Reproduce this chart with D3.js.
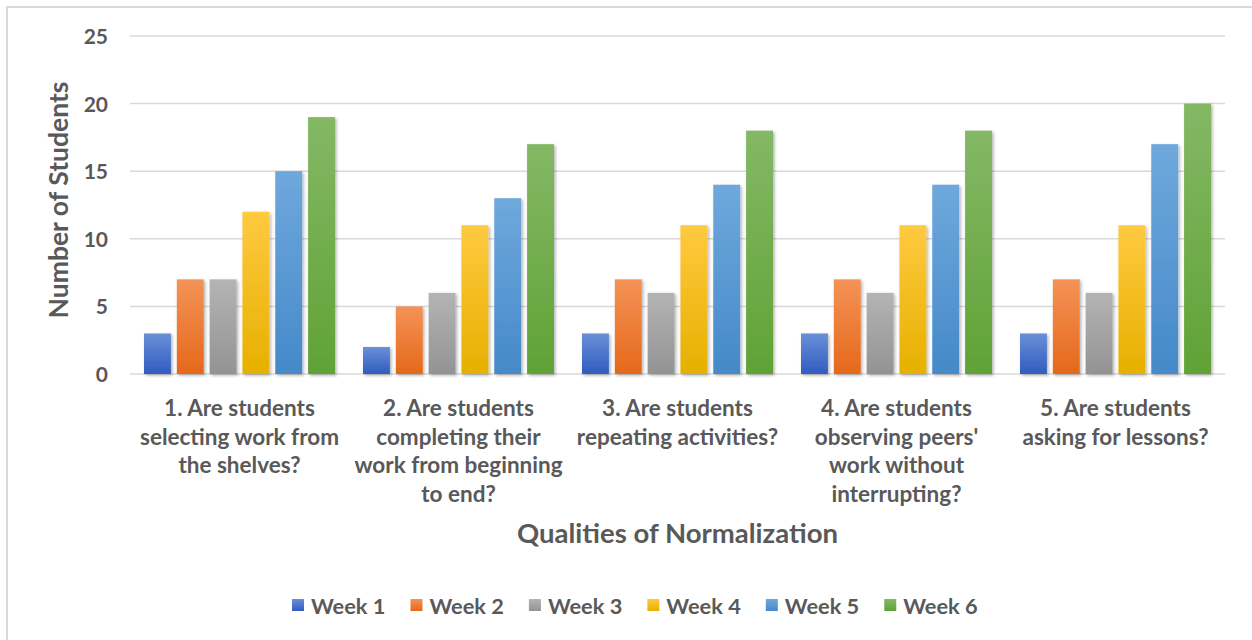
<!DOCTYPE html>
<html><head><meta charset="utf-8">
<script src="https://cdn.jsdelivr.net/npm/d3@7"></script>
<style>body{margin:0;background:#fff}svg{display:block}</style>
</head><body>
<svg id="c" width="1252" height="640"></svg>
<script>
const categories = [
  ["1. Are students","selecting work from","the shelves?"],
  ["2. Are students","completing their","work from beginning","to end?"],
  ["3. Are students","repeating activities?"],
  ["4. Are students","observing peers'","work without","interrupting?"],
  ["5. Are students","asking for lessons?"]
];
const weeks = ["Week 1","Week 2","Week 3","Week 4","Week 5","Week 6"];
const week1 = [3,2,3,3,3];
const week2 = [7,5,7,7,7];
const week3 = [7,6,6,6,6];
const week4 = [12,11,11,11,11];
const week5 = [15,13,14,14,17];
const week6 = [19,17,18,18,20];
const yTicks = [0,5,10,15,20,25];
const series = [week1,week2,week3,week4,week5,week6];
const colors = [
  ["#6b8fd8","#2f5cbf"],
  ["#f49357","#e5681a"],
  ["#b4b4b4","#939393"],
  ["#ffc940","#e6b000"],
  ["#6fa8dc","#4589c9"],
  ["#84b865","#60a236"]
];
const FONT = "Lato, 'Open Sans', sans-serif";
const TXT = "#595959";

const svg = d3.select("#c");
const defs = svg.append("defs");
const f = defs.append("filter").attr("id","sh").attr("x","-20%").attr("y","-20%").attr("width","160%").attr("height","140%");
f.append("feDropShadow").attr("dx",1.5).attr("dy",1.5).attr("stdDeviation",1.8).attr("flood-color","#000").attr("flood-opacity",0.3);
colors.forEach((c,i)=>{
  const g = defs.append("linearGradient").attr("id","g"+i).attr("x1",0).attr("y1",0).attr("x2",0).attr("y2",1);
  g.append("stop").attr("offset","0%").attr("stop-color",c[0]);
  g.append("stop").attr("offset","100%").attr("stop-color",c[1]);
});

// outer border
svg.append("rect").attr("x",7).attr("y",7).attr("width",1300).attr("height",700)
  .attr("fill","none").attr("stroke","#d9d9d9").attr("stroke-width",2);

const pLeft = 130, pRight = 1225, pTop = 36, pBottom = 374;
const y = d3.scaleLinear().domain([0,25]).range([pBottom, pTop]);
const x0 = d3.scaleBand().domain(d3.range(categories.length)).range([pLeft,pRight]);
const x1 = d3.scaleBand().domain(d3.range(weeks.length)).range([14, x0.bandwidth()-14]).paddingInner(0.18);

// gridlines
svg.append("g").selectAll("line").data(yTicks).join("line")
  .attr("x1",pLeft).attr("x2",pRight)
  .attr("y1",d=>y(d)).attr("y2",d=>y(d))
  .attr("stroke","#d9d9d9").attr("stroke-width",1.5);

// y axis labels
const yAxis = d3.axisLeft(y).tickValues(yTicks).tickSize(0).tickPadding(0);
const ya = svg.append("g").attr("transform",`translate(108,0)`).call(yAxis);
ya.select(".domain").remove();
ya.selectAll("text").attr("font-family",FONT).attr("font-weight","bold").attr("font-size",21).attr("fill",TXT).attr("dy","0.36em");

// bars
const groups = svg.append("g").selectAll("g").data(categories).join("g")
  .attr("transform",(d,i)=>`translate(${x0(i)},0)`);
groups.selectAll("rect").data((d,i)=>series.map((s,k)=>({k, v:s[i]}))).join("rect")
  .attr("x",d=>x1(d.k)).attr("width",x1.bandwidth())
  .attr("y",d=>y(d.v)).attr("height",d=>y(0)-y(d.v))
  .attr("fill",d=>`url(#g${d.k})`).attr("filter","url(#sh)");

// category labels
const cl = svg.append("g").selectAll("text").data(categories).join("text")
  .attr("x",(d,i)=>x0(i)+x0.bandwidth()/2).attr("y",416)
  .attr("text-anchor","middle").attr("font-family",FONT).attr("font-weight","bold")
  .attr("font-size",22.5).attr("fill",TXT);
cl.selectAll("tspan").data(d=>d).join("tspan")
  .attr("x",function(){return this.parentNode.getAttribute("x");})
  .attr("dy",(d,i)=>i===0?0:28.7).text(d=>d);

// axis titles
svg.append("text").attr("x",(pLeft+pRight)/2).attr("y",543).attr("text-anchor","middle")
  .attr("font-family",FONT).attr("font-weight","bold").attr("font-size",27.5).attr("fill",TXT)
  .text("Qualities of Normalization");
svg.append("text").attr("transform","translate(68,200) rotate(-90)").attr("text-anchor","middle")
  .attr("font-family",FONT).attr("font-weight","bold").attr("font-size",26.5).attr("fill",TXT)
  .text("Number of Students");

// legend
const lg = svg.append("g");
let lx = 292;
weeks.forEach((w,i)=>{
  lg.append("rect").attr("x",lx).attr("y",599).attr("width",12).attr("height",12).attr("fill",`url(#g${i})`);
  const t = lg.append("text").attr("x",lx+19).attr("y",614).attr("font-family",FONT).attr("font-weight","bold")
    .attr("font-size",21.8).attr("fill",TXT).text(w);
  lx += 19 + t.node().getComputedTextLength() + 25;
});
</script>
</body></html>
